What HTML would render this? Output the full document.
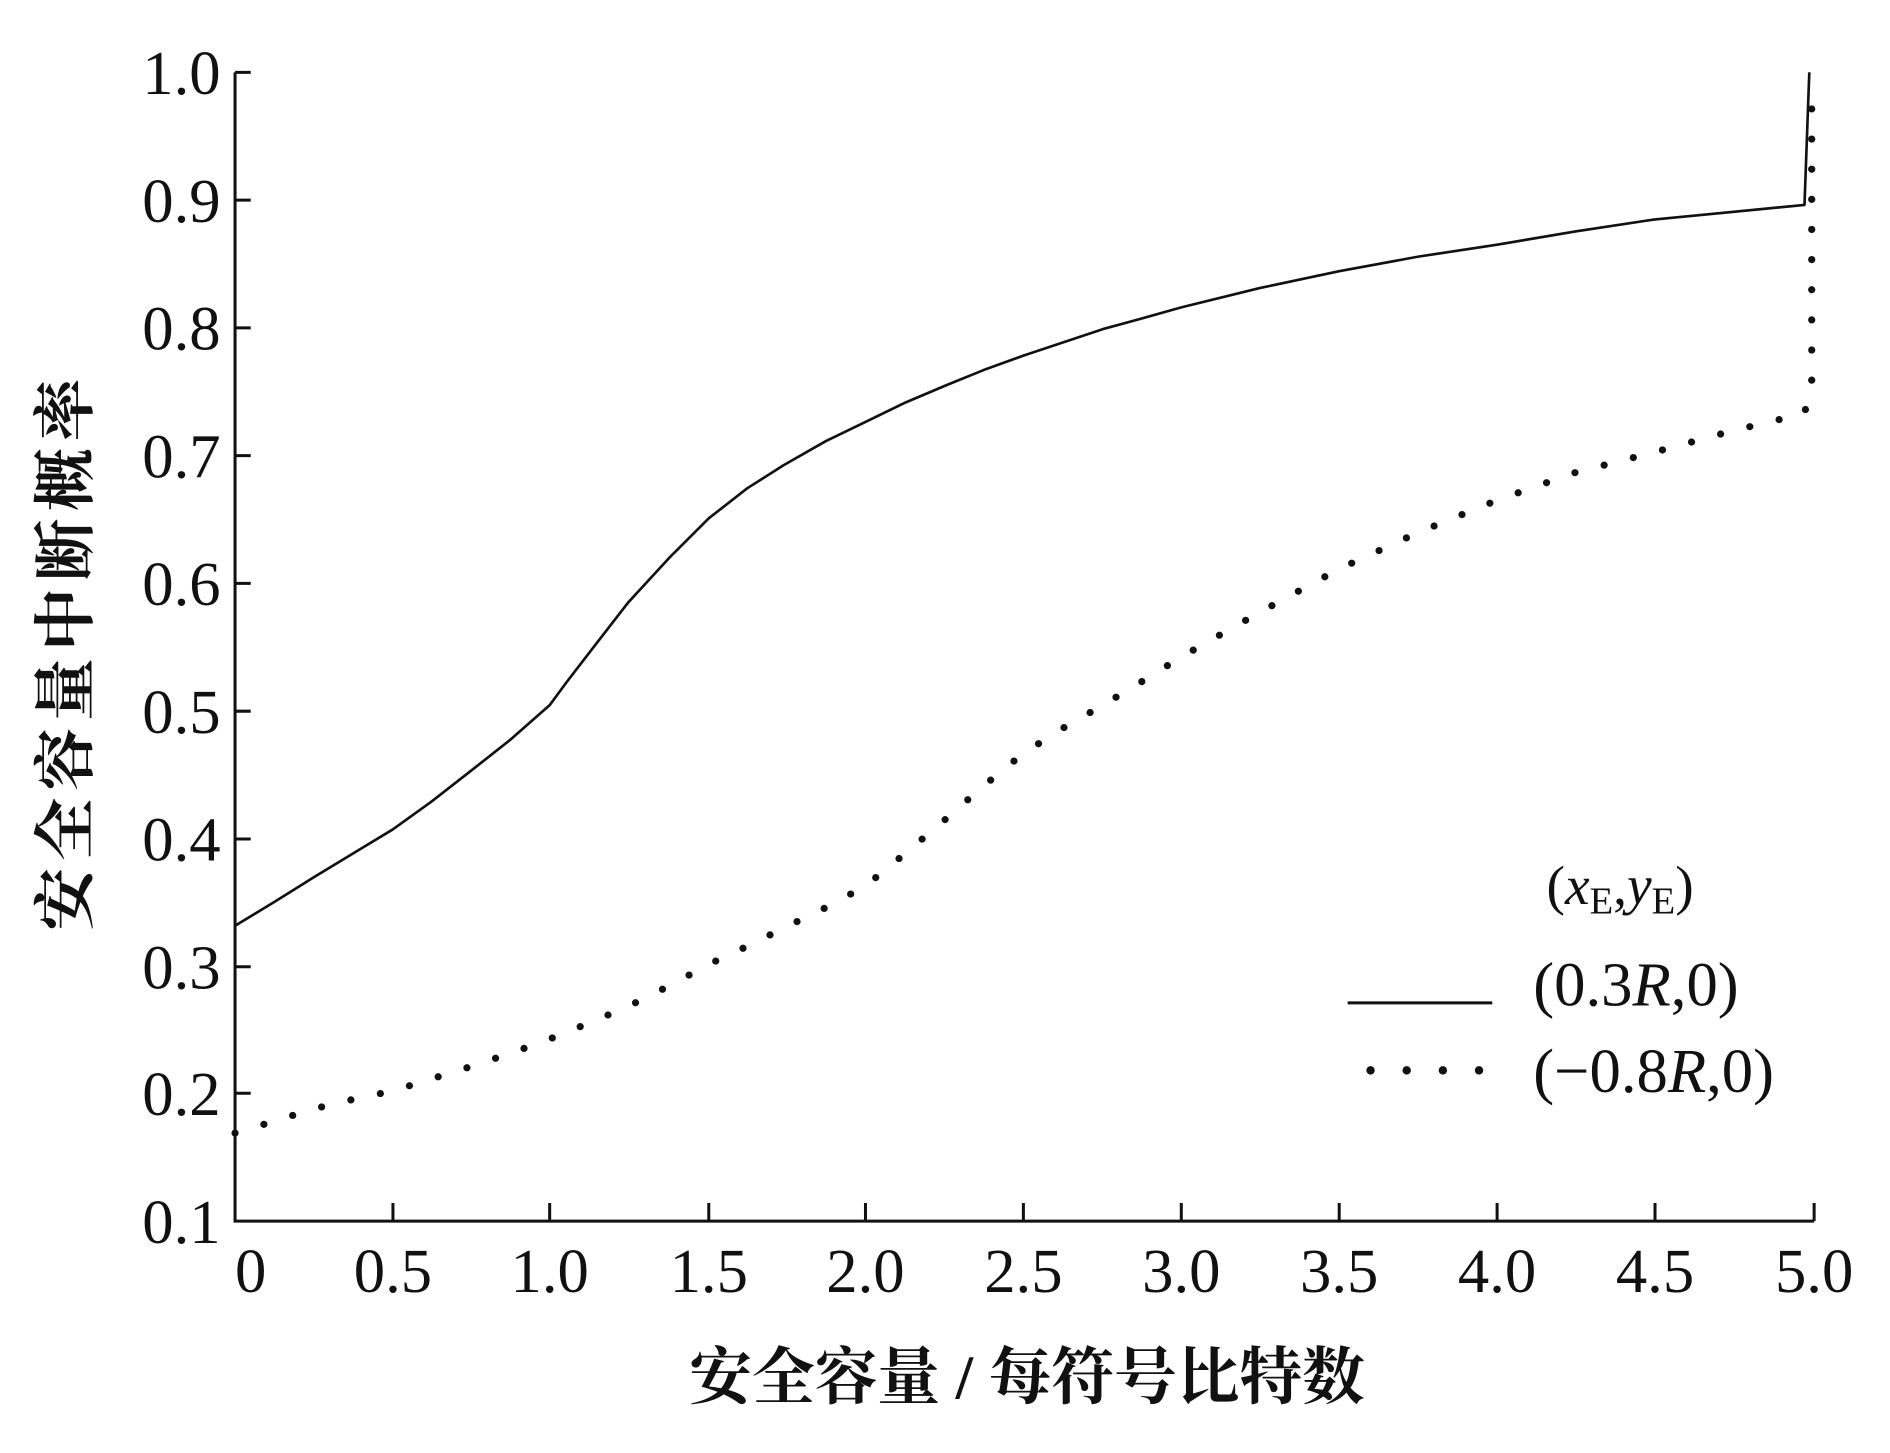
<!DOCTYPE html>
<html><head><meta charset="utf-8"><style>
html,body{margin:0;padding:0;background:#fff;width:1890px;height:1453px;overflow:hidden}
</style></head><body>
<svg width="1890" height="1453" viewBox="0 0 1890 1453" xmlns="http://www.w3.org/2000/svg">
<g transform="scale(1.2054)" font-family="Liberation Serif, serif" fill="#111">
<path d="M195 60 L195 1013 L1505 1013" fill="none" stroke="#111" stroke-width="2.5"/>
<path d="M326 1013v-15 M456 1013v-15 M588 1013v-15 M718 1013v-15 M849 1013v-15 M980 1013v-15 M1111 1013v-15 M1242 1013v-15 M1373 1013v-15 M1505 1013v-15" stroke="#111" stroke-width="2.5"/>
<path d="M195 60h13 M195 166h13 M195 272h13 M195 378h13 M195 484h13 M195 590h13 M195 696h13 M195 802h13 M195 907h13" stroke="#111" stroke-width="2.5"/>
<g font-size="52" text-anchor="end">
<text x="183" y="78">1.0</text><text x="183" y="184">0.9</text><text x="183" y="290">0.8</text>
<text x="183" y="396">0.7</text><text x="183" y="502">0.6</text><text x="183" y="608">0.5</text>
<text x="183" y="714">0.4</text><text x="183" y="820">0.3</text><text x="183" y="925">0.2</text>
<text x="183" y="1031">0.1</text>
</g>
<g font-size="52" text-anchor="middle">
<text x="208" y="1072">0</text><text x="326" y="1072">0.5</text><text x="456" y="1072">1.0</text>
<text x="588" y="1072">1.5</text><text x="718" y="1072">2.0</text><text x="849" y="1072">2.5</text>
<text x="980" y="1072">3.0</text><text x="1111" y="1072">3.5</text><text x="1242" y="1072">4.0</text>
<text x="1373" y="1072">4.5</text><text x="1505" y="1072">5.0</text>
</g>
<text x="852" y="1160" font-size="52" font-weight="bold" text-anchor="middle" font-family="Liberation Serif, 'Noto Serif CJK SC', serif">安全容量 / 每符号比特数</text>
<text transform="translate(72,540) rotate(-90)" font-size="52" font-weight="bold" text-anchor="middle" letter-spacing="6" font-family="Liberation Serif, 'Noto Serif CJK SC', serif">安全容量中断概率</text>
<polyline fill="none" stroke="#111" stroke-width="2.2" stroke-linejoin="round" points="195,768 228,748 260,728 293,708 326,688 358,665 390,640 423,614 456,585 470,566 490,540 521,500 555,463 588,430 620,405 650,386 685,366 718,350 751,334 784,320 816,307 849,295 882,284 915,273 948,264 980,255 1045,239 1111,225 1176,213 1242,203 1307,192 1373,182 1435,176 1497,170 1501,60"/>
<polyline fill="none" stroke="#111" stroke-width="6" stroke-linecap="round" stroke-dasharray="0 25" points="195,940 228,930 260,920 293,912 326,905 358,895 390,885 423,874 456,862 488,849 521,835 555,818 588,800 620,785 650,770 685,753 718,735 751,708 784,680 816,652 849,625 882,604 915,585 948,565 980,545 1045,508 1111,472 1176,442 1242,415 1307,392 1373,375 1435,358 1497,343 1503,318 1503,78"/>
<text x="1283" y="750" font-size="46">(<tspan font-style="italic">x</tspan><tspan font-size="32" dy="8">E</tspan><tspan dy="-8">,</tspan><tspan font-style="italic">y</tspan><tspan font-size="32" dy="8">E</tspan><tspan dy="-8">)</tspan></text>
<line x1="1118" y1="832" x2="1238" y2="832" stroke="#111" stroke-width="2.5"/>
<text x="1272" y="834" font-size="52">(0.3<tspan font-style="italic">R</tspan>,0)</text>
<g><circle cx="1137" cy="888" r="3.5"/><circle cx="1167" cy="888" r="3.5"/><circle cx="1197" cy="888" r="3.5"/><circle cx="1227" cy="888" r="3.5"/></g>
<text x="1272" y="906" font-size="52">(−0.8<tspan font-style="italic">R</tspan>,0)</text>
</g>
</svg>
</body></html>
